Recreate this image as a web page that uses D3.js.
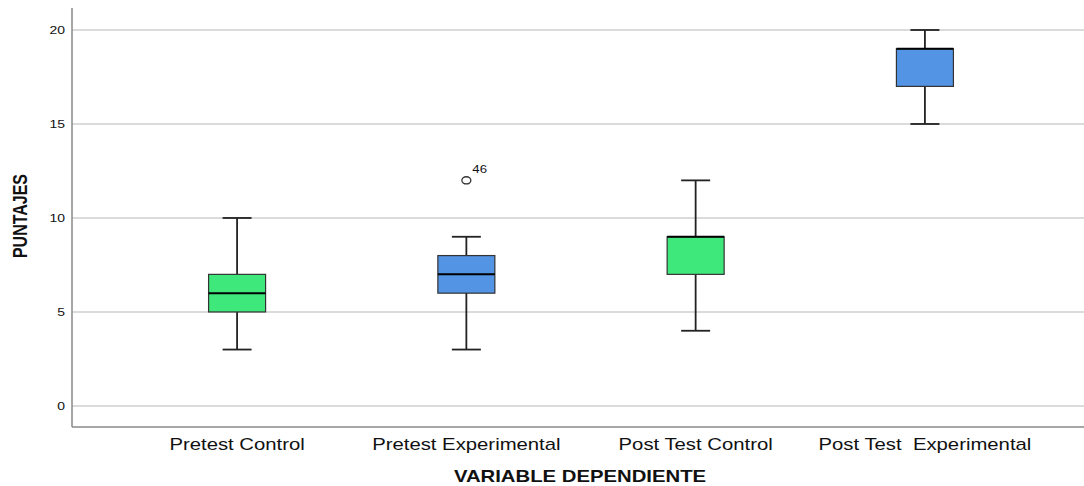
<!DOCTYPE html>
<html>
<head>
<meta charset="utf-8">
<script src="https://cdn.jsdelivr.net/npm/d3@7"></script>
<style>
  body { margin: 0; background: #fff; }
  text { font-family: "Liberation Sans", Arial, sans-serif; fill: #111; }
</style>
</head>
<body>
<div class="chart"></div>
<script>
// data
var categories = ["Pretest Control", "Pretest Experimental", "Post Test Control", "Post Test  Experimental"];
var groupKind = ["control", "experimental", "control", "experimental"];
var whiskerLow = [3, 3, 4, 15];
var q1 = [5, 6, 7, 17];
var median = [6, 7, 9, 19];
var q3 = [7, 8, 9, 19];
var whiskerHigh = [10, 9, 12, 20];

var outlierCategory = ["Pretest Experimental"];
var outlierValue = [12];
var outlierLabel = ["46"];

var yTicks = [0, 5, 10, 15, 20];

var width = 1084, height = 486;
var plotLeft = 72, plotBottom = 427, plotTop = 8;
var sx = 1.27; // the original text is stretched horizontally

var colors = { control: "#3ee87b", experimental: "#5394e4" };

var svg = d3.select('.chart')
            .append('svg')
            .attr('width', width)
            .attr('height', height);

var x = d3.scalePoint()
          .domain(categories)
          .range([plotLeft, 1090])
          .padding(0.72);

var y = d3.scaleLinear()
          .domain([-1.12, 21.17])
          .range([plotBottom, plotTop]);

// gridlines
svg.append('g')
   .selectAll('line')
   .data(yTicks)
   .enter()
   .append('line')
   .attr('x1', plotLeft)
   .attr('x2', width)
   .attr('y1', function(d){ return y(d); })
   .attr('y2', function(d){ return y(d); })
   .attr('stroke', '#cfcfcf')
   .attr('stroke-width', 1.5);

// tick labels
svg.append('g')
   .selectAll('text')
   .data(yTicks)
   .enter()
   .append('text')
   .attr('transform', function(d){ return 'translate(65,' + (y(d) + 4) + ') scale(' + sx + ',1)'; })
   .attr('text-anchor', 'end')
   .style('font-size', '11px')
   .text(function(d){ return d; });

// axes
svg.append('line')
   .attr('x1', plotLeft).attr('x2', plotLeft)
   .attr('y1', plotTop).attr('y2', plotBottom)
   .attr('stroke', '#888').attr('stroke-width', 1.5);
svg.append('line')
   .attr('x1', plotLeft).attr('x2', width)
   .attr('y1', plotBottom).attr('y2', plotBottom)
   .attr('stroke', '#888').attr('stroke-width', 1.5);

var boxW = 57, capW = 29;

var boxes = svg.append('g')
   .selectAll('g')
   .data(categories)
   .enter()
   .append('g');

// whisker stem
boxes.append('line')
   .attr('x1', function(d){ return x(d); })
   .attr('x2', function(d){ return x(d); })
   .attr('y1', function(d, i){ return y(whiskerLow[i]); })
   .attr('y2', function(d, i){ return y(whiskerHigh[i]); })
   .attr('stroke', '#222').attr('stroke-width', 1.8);

// caps
[whiskerLow, whiskerHigh].forEach(function(arr){
  boxes.append('line')
     .attr('x1', function(d){ return x(d) - capW / 2; })
     .attr('x2', function(d){ return x(d) + capW / 2; })
     .attr('y1', function(d, i){ return y(arr[i]); })
     .attr('y2', function(d, i){ return y(arr[i]); })
     .attr('stroke', '#222').attr('stroke-width', 1.8);
});

// box
boxes.append('rect')
   .attr('x', function(d){ return x(d) - boxW / 2; })
   .attr('width', boxW)
   .attr('y', function(d, i){ return y(q3[i]); })
   .attr('height', function(d, i){ return y(q1[i]) - y(q3[i]); })
   .attr('fill', function(d, i){ return colors[groupKind[i]]; })
   .attr('stroke', '#333').attr('stroke-width', 1.2);

// median
boxes.append('line')
   .attr('x1', function(d){ return x(d) - boxW / 2; })
   .attr('x2', function(d){ return x(d) + boxW / 2; })
   .attr('y1', function(d, i){ return y(median[i]); })
   .attr('y2', function(d, i){ return y(median[i]); })
   .attr('stroke', '#000').attr('stroke-width', 2);

// outliers
var out = svg.append('g')
   .selectAll('g')
   .data(outlierValue)
   .enter()
   .append('g');
out.append('ellipse')
   .attr('cx', function(d, i){ return x(outlierCategory[i]); })
   .attr('cy', function(d){ return y(d); })
   .attr('rx', 4.5).attr('ry', 3.6)
   .attr('fill', 'none')
   .attr('stroke', '#333').attr('stroke-width', 1.3);
out.append('text')
   .attr('transform', function(d, i){ return 'translate(' + (x(outlierCategory[i]) + 6) + ',' + (y(d) - 7) + ') scale(1.2,1)'; })
   .style('font-size', '11px')
   .text(function(d, i){ return outlierLabel[i]; });

// category labels
svg.append('g')
   .selectAll('text')
   .data(categories)
   .enter()
   .append('text')
   .attr('transform', function(d){ return 'translate(' + x(d) + ',450) scale(' + sx + ',1)'; })
   .attr('text-anchor', 'middle')
   .style('font-size', '16px')
   .style('white-space', 'pre')
   .text(function(d){ return d; });

// axis titles
svg.append('text')
   .attr('transform', 'translate(580,482) scale(' + sx + ',1)')
   .attr('text-anchor', 'middle')
   .style('font-size', '16px')
   .style('font-weight', 'bold')
   .text('VARIABLE DEPENDIENTE');

svg.append('text')
   .attr('transform', 'translate(27,216) scale(' + sx + ',1) rotate(-90)')
   .attr('text-anchor', 'middle')
   .style('font-size', '16px')
   .style('font-weight', 'bold')
   .text('PUNTAJES');
</script>
</body>
</html>
